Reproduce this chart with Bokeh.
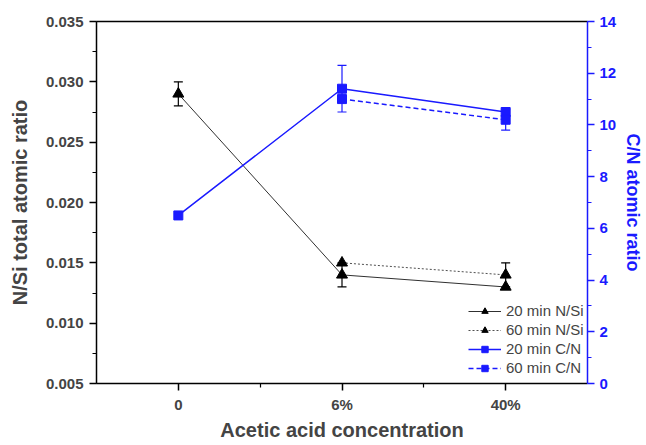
from bokeh.plotting import figure
from bokeh.models import (Range1d, LinearAxis, FixedTicker, SingleIntervalTicker,
                          Legend, LegendItem, Whisker, TeeHead, ColumnDataSource,
                          NumeralTickFormatter)
from bokeh.embed import file_html
from bokeh.resources import INLINE

nan = float("nan")
categories = ["0", "6%", "40%"]
nsi_20 = [0.029, 0.014, 0.013]
nsi_60 = [nan, 0.015, 0.014]
cn_20 = [6.5, 11.4, 10.5]
cn_60 = [nan, 11.0, 10.2]
nsi_20_err = [0.001, 0.001, 0.0]
nsi_60_err = [0.0, 0.0, 0.001]
cn_20_err = [0.0, 0.9, 0.0]
cn_60_err = [0.0, 0.0, 0.4]

x = list(range(len(categories)))
FONT = "Liberation Sans"
BLUE = "#1a1aff"

p = figure(width=646, height=445, output_backend="svg", toolbar_location=None,
           x_range=Range1d(-0.5, 2.5), y_range=Range1d(0.005, 0.035),
           min_border_left=96, min_border_right=55, min_border_top=21, min_border_bottom=62)
p.grid.visible = False
p.outline_line_color = None
p.background_fill_color = "white"
p.border_fill_color = "white"

p.extra_y_ranges = {"cn": Range1d(0, 14)}

xa = p.xaxis[0]
xa.ticker = FixedTicker(ticks=x, minor_ticks=[0.5, 1.5])
xa.major_label_overrides = {i: c for i, c in zip(x, categories)}
xa.axis_label = "Acetic acid concentration"

ya = p.yaxis[0]
ya.ticker = SingleIntervalTicker(interval=0.005, num_minor_ticks=2)
ya.formatter = NumeralTickFormatter(format="0.000")
ya.axis_label = "N/Si total atomic ratio"

ra = LinearAxis(y_range_name="cn", axis_label="C/N atomic ratio",
                ticker=SingleIntervalTicker(interval=2, num_minor_ticks=2))
p.add_layout(ra, "right")

top = LinearAxis(ticker=FixedTicker(ticks=[]), major_label_text_font_size="0px")
p.add_layout(top, "above")

for ax in [xa, ya, ra, top]:
    ax.axis_line_width = 1.5
    ax.major_tick_in = 0
    ax.major_tick_out = 7
    ax.minor_tick_in = 0
    ax.minor_tick_out = 4
    ax.major_tick_line_width = 1.5
    ax.minor_tick_line_width = 1.2
    ax.major_label_text_font = FONT
    ax.major_label_text_font_style = "bold"
    ax.major_label_text_font_size = "15px"
    ax.axis_label_text_font = FONT
    ax.axis_label_text_font_style = "bold"
    ax.axis_label_text_font_size = "20px"
    ax.major_label_standoff = 6
top.major_label_text_font_size = "0px"
top.major_tick_line_color = None
top.minor_tick_line_color = None
xa.major_label_standoff = 5
xa.axis_label_standoff = 3
ya.axis_label_standoff = 12
ra.axis_label_standoff = 4
ra.major_label_standoff = 5
ra.axis_label_text_font_size = "18px"
for attr in ["axis_line_color", "major_tick_line_color", "minor_tick_line_color",
             "major_label_text_color", "axis_label_text_color"]:
    setattr(ra, attr, BLUE)

l1 = p.line(x, nsi_20, line_color="#303030", line_width=1)
m1 = p.scatter(x, nsi_20, marker="triangle", size=11, fill_color="black", line_color="black")
l2 = p.line(x, nsi_60, line_color="#505050", line_width=1, line_dash="2 2")
m2 = p.scatter(x, nsi_60, marker="triangle", size=11, fill_color="black", line_color="black")
l3 = p.line(x, cn_20, line_color=BLUE, line_width=1.5, y_range_name="cn")
m3 = p.scatter(x, cn_20, marker="square", size=9, fill_color=BLUE, line_color=BLUE, y_range_name="cn")
l4 = p.line(x, cn_60, line_color=BLUE, line_width=1.5, line_dash="5 3", y_range_name="cn")
m4 = p.scatter(x, cn_60, marker="square", size=9, fill_color=BLUE, line_color=BLUE, y_range_name="cn")

def add_err(vals, errs, color, rng=None):
    xs = [xi for xi, e in zip(x, errs) if e > 0]
    up = [v + e for v, e in zip(vals, errs) if e > 0]
    lo = [v - e for v, e in zip(vals, errs) if e > 0]
    src = ColumnDataSource(dict(x=xs, upper=up, lower=lo))
    kw = dict(source=src, base="x", upper="upper", lower="lower", dimension="height",
              line_color=color, line_width=1.2,
              upper_head=TeeHead(size=9, line_color=color, line_width=1.2),
              lower_head=TeeHead(size=9, line_color=color, line_width=1.2))
    if rng:
        kw["y_range_name"] = rng
    p.add_layout(Whisker(**kw))

add_err(nsi_20, nsi_20_err, "black")
add_err(nsi_60, nsi_60_err, "black")
add_err(cn_20, cn_20_err, BLUE, "cn")
add_err(cn_60, cn_60_err, BLUE, "cn")

legend = Legend(items=[
    LegendItem(label="20 min N/Si", renderers=[l1, m1]),
    LegendItem(label="60 min N/Si", renderers=[l2, m2]),
    LegendItem(label="20 min C/N", renderers=[l3, m3]),
    LegendItem(label="60 min C/N", renderers=[l4, m4]),
], location=(372, 7))
legend.label_text_font = FONT
legend.label_text_font_size = "15px"
legend.label_height = 16
legend.glyph_width = 33
legend.glyph_height = 16
legend.spacing = 2
legend.padding = 0
legend.margin = 0
legend.label_standoff = 5
legend.border_line_color = None
legend.background_fill_alpha = 0
p.add_layout(legend, "center")

open("out.html", "w").write(file_html(p, INLINE))
